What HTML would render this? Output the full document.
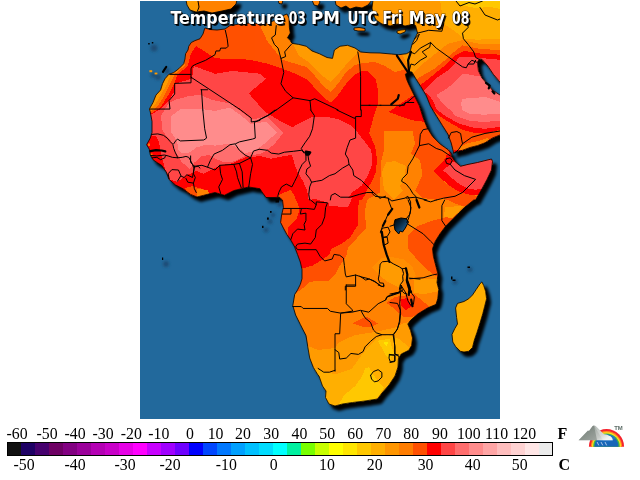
<!DOCTYPE html>
<html><head><meta charset="utf-8"><title>Temperature 03 PM UTC Fri May 08</title>
<style>html,body{margin:0;padding:0;background:#fff;width:640px;height:480px;overflow:hidden}</style>
</head><body>
<svg width="640" height="480" viewBox="0 0 640 480" style="position:absolute;left:0;top:0;will-change:transform;opacity:0.999">
<defs>
<clipPath id="mapclip"><rect x="140" y="1" width="360" height="418"/></clipPath>
<clipPath id="land"><polygon points="205,28 210,29.5 217,30 225,29 230,25.5 240,24 250,23 262,24 270,22 276,20 282,16 287,14 289,18 289.4,27.5 290.3,33 287.5,37.8 290.3,40.6 292,43.4 298.75,44.4 306.25,46.25 312,51 319.4,53.75 327,57.5 332.5,58.4 334.4,50 340,46.25 347.5,45.3 355,48 360.6,52 370,52.8 380,53 391.25,54 398.75,54.7 406.25,53.75 410,52 412,44.4 414.7,38.75 417.5,33 415.6,25.6 412,24.5 405,26 398,24 390,26 382,24 376,20 373,14 372,8 373,0 505,0 505,82 500,82 493.4,74.4 487.8,66 482,59.4 479.4,59 477.5,62 478.4,70.6 482,78 487.8,84.7 492.5,90.3 500,95 505,95 505,135 500,135 492.5,138 485,142.8 477.5,145.6 470,147.5 462.5,150.3 455,152 453.6,153.5 453.4,151.8 451.2,143 448,134.3 442.5,125.6 437,116.8 430.4,106 426,95 420.6,86.2 416,79 411.9,72 408.5,71.5 405.3,74.2 406.5,79 408.6,84 414,95 419.5,106 422.8,116.8 427.2,127.8 432.6,136.5 440.3,144.2 448,149.6 451,153 451.25,156 455,161.5 460.6,166.25 468,164.4 477.5,162.5 485,160.6 491.5,159 492.5,161.5 491.5,170 487,179.4 482,188.75 475.6,200 473.75,200 464.4,207.5 458.75,213 453,218.75 445.6,226.25 440,233.75 435.3,241.25 432.5,248.75 433.4,256.25 435.3,263.75 438,274 437,282.5 438.75,289.4 437.8,298.75 436,304.4 427.5,308 418,313.75 410.6,320.3 407.8,324 410.6,330.6 412.5,338 411.6,345.6 408.75,350.3 401.25,354 398.4,358.75 398,367 395,376 389,385 382,393 377.5,399 365,401 352.5,402.5 342.5,404 335,406 329,404 325.5,397.5 326,391 322.5,386 319,376 318,375 313.4,367.5 309.7,358 307.8,347 306,335.6 300.3,324.4 295.6,315 292.8,305.6 294.7,294.4 297.5,290 300.3,284.4 302,278.75 302,269.4 300.3,262 297.5,254.4 294.7,247 291,240.3 287,234.7 283.4,228 280.6,222.5 281.6,215 283.4,207.5 282.5,200 279,197 275,197.5 266,197.5 262,192 260,188.75 248.75,187 241.25,188.75 233.75,190.6 224.4,195.3 215,192.5 203.75,195.3 197,197 190.6,194.4 183,188.75 175.6,185 169,179.4 166.25,172 161.6,165.3 157,162.5 153,159.7 150.3,155 149.4,149.4 146.6,144.7 150.3,138 152,132.5 152,121.25 150.3,112 149.4,109 153,102.5 156,95 160.6,90 162.5,83.75 165,78.75 168.75,74.4 173.75,72.5 178.75,68.75 183.75,63.75 185,58.75 185.6,53.75 188,50 188.75,46.25 191.25,42.5 195,40.6 200,38.75 203,34 204.7,28.4"/><polygon points="278,0 279,3.5 282,4 283,0"/><polygon points="186,0 187,5 190,10 196,12 204,11 212,13 222,11 231,9 236,4 237,0"/><polygon points="335,0 336,5 341,8 346,6 350,9 356,7 362,8 368,5 372,0"/><polygon points="312,0 314,5 318,6 320,2 319,0"/><polygon points="354,28 359,27.5 365,28.5 365,31 358,31 354,30"/><polygon points="397,31 401,30 406,29.5 405,32 400,34 397,33"/><polygon points="481.9,281.9 483.75,285.6 485.6,291.25 486.6,298.75 484.7,306.25 482.8,313.75 480,323 477,332.5 474.4,340 472.5,347.5 468.75,351.25 464,352 460.3,351.25 455.6,346.5 452.8,342 452,334.4 454.7,328.75 457.5,324 456.6,317.5 455.6,308 457.5,303.4 464,301.5 468.75,298.75 472.5,295 476.25,289.4 480,283.75"/></clipPath>
<filter id="blur" x="-5%" y="-5%" width="110%" height="110%"><feGaussianBlur stdDeviation="1.5"/></filter>
<filter id="blur2" x="-50%" y="-50%" width="200%" height="200%"><feGaussianBlur stdDeviation="1.6"/></filter>
<linearGradient id="mtn" x1="0" y1="0" x2="1" y2="0.6"><stop offset="0" stop-color="#76807a"/><stop offset="0.45" stop-color="#a9b0ab"/><stop offset="0.8" stop-color="#c9cdca"/><stop offset="1" stop-color="#eef0ef"/></linearGradient>
<linearGradient id="lakeg" x1="0" y1="0" x2="1" y2="1"><stop offset="0" stop-color="#000"/><stop offset="0.35" stop-color="#06233a"/><stop offset="0.8" stop-color="#1d5f92"/><stop offset="1" stop-color="#22699c"/></linearGradient>
</defs>
<rect x="0" y="0" width="640" height="480" fill="#fff"/>
<g clip-path="url(#mapclip)">
<rect x="140" y="1" width="360" height="418" fill="#22699c"/>
<g filter="url(#blur)" transform="translate(4,4.5)" fill="#000" stroke="#000" stroke-width="1">
<polygon points="205,28 210,29.5 217,30 225,29 230,25.5 240,24 250,23 262,24 270,22 276,20 282,16 287,14 289,18 289.4,27.5 290.3,33 287.5,37.8 290.3,40.6 292,43.4 298.75,44.4 306.25,46.25 312,51 319.4,53.75 327,57.5 332.5,58.4 334.4,50 340,46.25 347.5,45.3 355,48 360.6,52 370,52.8 380,53 391.25,54 398.75,54.7 406.25,53.75 410,52 412,44.4 414.7,38.75 417.5,33 415.6,25.6 412,24.5 405,26 398,24 390,26 382,24 376,20 373,14 372,8 373,0 505,0 505,82 500,82 493.4,74.4 487.8,66 482,59.4 479.4,59 477.5,62 478.4,70.6 482,78 487.8,84.7 492.5,90.3 500,95 505,95 505,135 500,135 492.5,138 485,142.8 477.5,145.6 470,147.5 462.5,150.3 455,152 453.6,153.5 453.4,151.8 451.2,143 448,134.3 442.5,125.6 437,116.8 430.4,106 426,95 420.6,86.2 416,79 411.9,72 408.5,71.5 405.3,74.2 406.5,79 408.6,84 414,95 419.5,106 422.8,116.8 427.2,127.8 432.6,136.5 440.3,144.2 448,149.6 451,153 451.25,156 455,161.5 460.6,166.25 468,164.4 477.5,162.5 485,160.6 491.5,159 492.5,161.5 491.5,170 487,179.4 482,188.75 475.6,200 473.75,200 464.4,207.5 458.75,213 453,218.75 445.6,226.25 440,233.75 435.3,241.25 432.5,248.75 433.4,256.25 435.3,263.75 438,274 437,282.5 438.75,289.4 437.8,298.75 436,304.4 427.5,308 418,313.75 410.6,320.3 407.8,324 410.6,330.6 412.5,338 411.6,345.6 408.75,350.3 401.25,354 398.4,358.75 398,367 395,376 389,385 382,393 377.5,399 365,401 352.5,402.5 342.5,404 335,406 329,404 325.5,397.5 326,391 322.5,386 319,376 318,375 313.4,367.5 309.7,358 307.8,347 306,335.6 300.3,324.4 295.6,315 292.8,305.6 294.7,294.4 297.5,290 300.3,284.4 302,278.75 302,269.4 300.3,262 297.5,254.4 294.7,247 291,240.3 287,234.7 283.4,228 280.6,222.5 281.6,215 283.4,207.5 282.5,200 279,197 275,197.5 266,197.5 262,192 260,188.75 248.75,187 241.25,188.75 233.75,190.6 224.4,195.3 215,192.5 203.75,195.3 197,197 190.6,194.4 183,188.75 175.6,185 169,179.4 166.25,172 161.6,165.3 157,162.5 153,159.7 150.3,155 149.4,149.4 146.6,144.7 150.3,138 152,132.5 152,121.25 150.3,112 149.4,109 153,102.5 156,95 160.6,90 162.5,83.75 165,78.75 168.75,74.4 173.75,72.5 178.75,68.75 183.75,63.75 185,58.75 185.6,53.75 188,50 188.75,46.25 191.25,42.5 195,40.6 200,38.75 203,34 204.7,28.4"/>
<polygon points="278,0 279,3.5 282,4 283,0"/>
<polygon points="186,0 187,5 190,10 196,12 204,11 212,13 222,11 231,9 236,4 237,0"/>
<polygon points="335,0 336,5 341,8 346,6 350,9 356,7 362,8 368,5 372,0"/>
<polygon points="312,0 314,5 318,6 320,2 319,0"/>
<polygon points="354,28 359,27.5 365,28.5 365,31 358,31 354,30"/>
<polygon points="397,31 401,30 406,29.5 405,32 400,34 397,33"/>
<polygon points="481.9,281.9 483.75,285.6 485.6,291.25 486.6,298.75 484.7,306.25 482.8,313.75 480,323 477,332.5 474.4,340 472.5,347.5 468.75,351.25 464,352 460.3,351.25 455.6,346.5 452.8,342 452,334.4 454.7,328.75 457.5,324 456.6,317.5 455.6,308 457.5,303.4 464,301.5 468.75,298.75 472.5,295 476.25,289.4 480,283.75"/>
</g>
<g filter="url(#blur2)" fill="#1a4c74">
<circle cx="455" cy="282" r="2.5"/>
<circle cx="470" cy="269.5" r="2.5"/>
<circle cx="280" cy="204" r="3"/>
<circle cx="270" cy="221.5" r="2.5"/>
<circle cx="266" cy="230" r="2.5"/>
<circle cx="154" cy="48" r="3.5"/>
<circle cx="153" cy="75" r="2.5"/>
<circle cx="158" cy="77" r="3"/>
<circle cx="167" cy="71" r="3"/>
<circle cx="166" cy="264" r="3"/>
<circle cx="273" cy="215" r="2.2"/>
</g>
<g clip-path="url(#land)" shape-rendering="crispEdges">
<rect x="140" y="1" width="360" height="418" fill="#ff8200"/>
<polygon fill="#ff5000" points="140,20 200,20 261,22 261,27.5 267,40.6 274.4,50 282,59.4 293,63 306.25,67 313.75,74.4 323,85.6 330.6,92 338,83.75 345.6,72.5 355,65 362.5,63 375,62 385,66 395,72 403,70 407,68 412,80 426,106 372,106 372,145 140,145"/>
<polygon fill="#ff9b00" points="288,38 293,44.4 298.75,55.6 306.25,60.3 313.75,67 323,76.25 330.6,82 338,74.4 347.5,63 357,53.75 358.75,50 362,44 345,40"/>
<polygon fill="#ff9b00" points="395,45 403,56 407,64 412,75 420,66 432.5,56 447.5,44 462.5,40 480,44 506,45 506,0 370,0 370,30"/>
<polygon fill="#ffaf00" points="440,0 443.75,23.75 455,31.25 463.4,38.75 477.5,39.7 492.5,38.75 506,39.7 506,0"/>
<polygon fill="#ffc800" points="455,0 460,5 475,8 490,7 506,10 506,0"/>
<polygon fill="#ff5000" points="372,105 425,105 455,160 447.5,159 433.75,171 445,182.5 457.5,191 470,194 476,196 480,200 470.6,202.5 467,206.25 459.4,205.3 442.5,197.8 435,199.7 422,197.8 414.4,190.3 415,191 422.5,175 420,160 411,153.75 415,143.75 412.5,131 384,131 384,150 381,162.5 380,192.5 375,195 367,200 365,211.25 366,228 357.5,237.5 348,247 346.25,256.25 338.75,267.5 335,275 329.4,280.6 316.25,280.6 308.75,282.5 303,288 296,293 285,260 340,200 360,110"/>
<polygon fill="#ff5000" points="408,235.6 417.5,226.25 432.5,220.6 443.75,217.8 458,214 445,235 440,262 440,278 434.4,275 427,269.4 417.5,260 408,248.75"/>
<polygon fill="#ff9b00" points="386,162.5 395,161 406,166 404,180 400,186 403,191 394,199 384,190 382,172"/>
<polygon fill="#ff8e00" points="372,267.3 381.6,258.4 388,256.5 404,259.4 412.5,267 416,276 410.6,278 401.25,284.7 388,282 378.75,274.4"/>
<polygon fill="#ff9b00" points="380,264 388,262 399.4,267 402.2,274.4 401.25,282 399.4,287.5 388,282 380,276"/>
<polygon fill="#ff5000" points="386.6,302.8 395,297 414.4,294 422,300.6 430,307 418,314 410.6,317.5 403,316.5 395,309.4"/>
<polygon fill="#ff0000" points="400.3,299.7 407.8,297.8 411.6,306.25 406,310 401.25,305.3"/>
<polygon fill="#ff5000" points="352.8,323.4 361.25,318.75 367,317 378,323.4 370.6,327 363,327"/>
<polygon fill="#ff9b00" points="300,344 307.8,346 318,350 335,348 338.75,342.5 346,338.75 355.6,335 368.75,333 380,331 395,327.5 402.5,323.75 415,320 415,410 300,410"/>
<polygon fill="#ffaf00" points="312,368 319,369.7 335,374.4 351.9,368.75 361.25,355.6 368.75,346.25 378,337.8 387.5,335 398.75,338.75 410,348 410,410 318,410"/>
<polygon fill="#ffc800" points="365,368.75 368.75,366.9 378,381.9 383.75,387.5 378,397 368.75,402.6 351.9,404.5 336.9,407.3 344.4,395 355.6,385.6 362.2,376.25"/>
<polygon fill="#ffc800" points="378,340.6 389.4,338.75 394,353.75 389.4,360.3 383.75,351.9"/>
<polygon fill="#ffe600" points="383.2,342 388.4,342 386.6,346.25"/>
<polygon fill="#ffaf00" points="445,275 495,275 495,360 445,360"/>
<polygon fill="#ff0000" points="196,46 204,51 215,58 225,59 242,59 250,60 265,63 278,67 297,74.4 308,80 317.5,91.25 325,98.75 330.6,102.5 338,95 347.5,82 355,74.4 362.5,70.6 368,71 375.6,78.75 378.4,92 377.5,105 373.75,116 372.5,121.25 369,133.4 375,145.6 377,158.75 376,172 372,181 368,188 365,195 362,200 359.4,200 357.5,211.25 358.4,224.4 350,237.5 342.5,243 331.25,248.75 329.4,254.4 322,260 312.5,265.6 303,268.4 290,268 270,215 140,215 140,113 153,112.5 160.6,107 168,95.6 173.75,84.4 177.5,75 187.8,65.6 190.6,54.4"/>
<polygon fill="#ff0000" points="388.5,112 400,104 412,96 418,96 424,108 426,122 412,120.3 398.75,115.6"/>
<polygon fill="#ff4646" points="193.75,66 215,73.75 232.5,71 260,73.75 266,78.75 248.6,93.3 265,111.9 281.4,121.7 292.3,127.2 303,121.25 313.4,116.6 325.6,116.6 338.75,119.4 350,125 357.5,132.5 365,142 370.6,149.4 372.5,157 371.6,166.25 367.8,175.6 362.2,185 357.5,188.75 352,192.5 348,198 347,203 340,205 327.5,202.5 315,199 308.75,200 307,190.6 303,181.25 297.5,172 294.7,164.4 292,155 284.4,156 271.25,158.75 260,156 252.5,157 245,157.5 237.5,160.6 232,163.4 220.6,165.3 211.25,170 203.75,173.75 196.25,171 186,175.6 177.5,182 170,179.4 166.25,172 164.8,168 163.4,162.5 162,157.8 161,153 160,147.5 158.3,140 156,136.25 150,135 150,113.5 153,113.5 162,108 169.7,99.4 174.4,91 175,83.5 192,78.75"/>
<polygon fill="#ff6e6e" points="161,116 168,104 174.4,100 187.5,96.5 199.7,94.7 212,100 230,103.5 243,113 252,119.5 267,116.25 283.6,132.7 273.75,144.7 262.8,153 254,155 245,156 237.5,159.7 232,162 224.4,162.5 215,158.5 209.4,155 202,156 194.4,162.5 190,169 187,166.25 182,162.5 179.4,157.3 176.5,154 174.2,149.4 172.8,143.75 170,139 165.3,134.4 162,129.7 161.5,121"/>
<polygon fill="#ff8c8c" points="171,116 181,109 201,109 215,111 230,107.5 242,116.25 250.8,124 266,121.7 277,132.7 262.8,145 254,151.5 245,153 237.5,147.5 228,143.75 215,145.6 205.6,144.7 196.25,147.5 188.75,153 181.25,153 178.4,149.4 177.5,143.75 175.6,139 171.4,132.5 171,120"/>
<polygon fill="#ff5000" points="196,46 190.6,54.4 187.8,65.6 177.5,75 173.75,84.4 168,95.6 160.6,107 153,112.5 140,113 140,40 200,30"/>
<polygon fill="#ff8200" points="186,50.6 185,65.6 174.7,74 170,84.4 164.4,95.6 157,107 151,111.5 140,112 140,50"/>
<polygon fill="#ff9b00" points="171,74 167,84.4 160.6,95.6 155,105 150.3,109.7 140,110 140,70"/>
<polygon fill="#ff8200" points="408,70 412.8,74.4 417.5,68.75 432.5,63 443.75,55.6 455,46.25 464.4,40.6 480,44 500,44.4 506,44.4 506,166 460,166 454,159 451,156 446,145 441,135 436,125 430,115 426,106 422,97 417,88 412,80 408,74"/>
<polygon fill="#ff5000" points="415.6,80 421.25,76.25 434.4,68.75 443.75,61.25 453,52.8 462.5,45.3 480,49 500,50 506,50 506,166 460,166 454,159 451,156 446,145 441,135 436,125 430,115 426,106 422,97 417,88"/>
<polygon fill="#ff0000" points="419.4,85.6 427,80 436.25,72.5 445.6,65 455,55.6 464.4,51 480,53.5 500,54.7 506,54.7 506,166 460,166 454,159 451,156 446,145 441,135 436,125 430,115 426,106 422,97 417,88"/>
<polygon fill="#ff4646" points="423,92 427,87.5 436.25,78 447.5,70.6 455,63 458.75,57.5 468,56.6 480,58 506,60.3 506,126 485,128.75 475,128 460,124 447,117 437,110 434,103 430,96 426,93"/>
<polygon fill="#ff6e6e" points="436.25,95 445.6,89.4 455,82 462.5,74.4 468,74.4 477.5,76.25 485,74.4 492.5,74.4 506,86 506,120 485,122 470,121 455,116 451,110 446,107 440,100"/>
<polygon fill="#ff8c8c" points="462.5,98.75 485,97 506,104 506,113 485,114.7 470,114 462.5,110 461,104"/>
<polygon fill="#ff5000" points="431,108 433,110 441,117 452,124 463,130 475,133 485,133.4 495,131 506,128 506,166 456,166 451,150 440,125"/>
<polygon fill="#ff8200" points="460,147 468,143 478,141 488,138 490,142 480,148 468,152 458,154"/>
<polygon fill="#ff0000" points="433.4,171 442,162.5 445.6,158 446.6,155 455,150 500,150 500,185 477.5,195.3 468,194.4 460.6,192.5 451.25,187 442,179.4"/>
<polygon fill="#ff4646" points="442.8,170 449.5,165.3 452,162 460,163 500,155 500,180 481.25,188.75 475.6,189.7 468,188.75 460.6,185 451.25,177.5"/>
<polygon fill="#ff5000" points="185,188 192.5,186 198,188 204,189 205,198 190,198"/>
<polygon fill="#ff8200" points="197.5,189 208,190 209,193 204,198 197,198"/>
<polygon fill="#ff5000" points="277,200 278.4,195.3 284,192.5 291,189.8 294,195.3 298.75,206.25 298.75,212.5 296.6,218.75 288,228 288,236 277,236"/>
<polygon fill="#ff4646" points="327.5,198 329.4,205.6 348,207.5 352,198"/>
<polygon fill="#ff9b00" points="445,207 463,206 458,213 452,218 444,217"/>
<polygon fill="#ff5000" points="297,284 305,285 299,292"/>
<polygon fill="#ff9b00" points="414,279 440,279 440,291 424,294 414,293"/>
<polygon fill="#ff9b00" points="184,0 198,0 199,14 186,14"/>
</g>
<polygon fill="url(#lakeg)" stroke="#000" stroke-width="1" points="395,219.7 401,218 406.25,218.75 408.5,222 405.3,228 402.5,232 400,231 398.75,234 395,230 394,224.4"/>
<rect x="452.5" y="279.5" width="3" height="1.5" fill="#000"/>
<rect x="467.5" y="266.5" width="2.5" height="1.5" fill="#000"/>
<rect x="451" y="276.5" width="1.5" height="3" fill="#000"/>
<rect x="275.5" y="199" width="3.5" height="3.5" fill="#000"/>
<rect x="267" y="217.5" width="1.8" height="2.2" fill="#000"/>
<rect x="262" y="225.8" width="1.5" height="2.2" fill="#000"/>
<rect x="148.2" y="43" width="1.5" height="1.5" fill="#000"/>
<rect x="151.8" y="42" width="1.5" height="1.5" fill="#000"/>
<rect x="149.4" y="70.2" width="2.8" height="2" fill="#ff9b00"/>
<rect x="154.6" y="72.6" width="2.8" height="1.8" fill="#ff9b00"/>
<rect x="162" y="257.5" width="1.2" height="2.5" fill="#000"/>
<rect x="148" y="143.5" width="2" height="2.5" fill="#ff7800"/>
<rect x="150" y="153.5" width="2.5" height="2.5" fill="#ff7800"/>
<rect x="270" y="211" width="1.6" height="1.8" fill="#000"/>
<g fill="none" stroke="#000" stroke-width="1" stroke-linejoin="round" stroke-linecap="round">
<polyline points="225.31,30.31 227.19,38.75 228.12,46.25 226.25,48.12 220.62,48.12 219.69,50.94 215.94,50.94 215,54.69 210.31,57.5 205.62,60.31 196.25,64.06 192.5,65.94 191,68.75 191,74.38"/>
<polyline points="170,74.38 191,74.38 191,82.81 174.69,83.38 174.69,94.06 169.06,100.62 170,109.06 150.31,109.06"/>
<polyline points="191,77.19 239.38,109.06"/>
<polyline points="200.94,89.75 207.5,89.75"/>
<polyline points="201.5,89.75 202.81,110"/>
<polyline points="276.25,25.62 275.31,35 271.56,37.81 274.38,44.38 278.12,48.12 280.94,58.44"/>
<polyline points="291.25,44.38 284.69,51.88 285.62,56.56 280.94,58.44 283.75,72.5 280.94,83.75 285.62,91.25 293.12,97.81 276.25,110"/>
<polyline points="293.12,97.81 310,100.62 310.94,110"/>
<polyline points="310,100.62 314.69,98.75 334.38,108.12 338.12,110"/>
<polyline points="357.81,51.88 359.69,63.12 360.62,76.25 360.62,110"/>
<polyline points="360.62,105.31 370,105.31"/>
<polyline points="410.94,51.88 408.12,60.31"/>
<polyline points="414.69,38.75 419.38,34.06 416.56,40.62 412.81,44.38"/>
<polyline points="410,51.88 414.69,53.75 420.31,48.12 430.62,42.5 429.69,47.19 422.19,51.88 426.88,56.56 420.31,60.31 414.69,65 410.94,64.06 409.06,71.56"/>
<polyline points="417.5,33.12 428.75,30.31 441.88,31.25 443.75,23.75"/>
<polyline points="430.62,42.5 436.25,48.12 453.12,60.31 462.5,66.88 466.25,67.81 468.12,64.06 473.75,64.06 475.62,60.31"/>
<polyline points="468.12,64.06 471.88,60.31 476.56,62.19"/>
<polyline points="467.19,20 468.12,27.5 462.5,33.12 463.44,38.75 468.12,44.38 473.75,51.88 475.62,57.5 479.38,59.38"/>
<polyline points="380,105.31 404.38,105.31 405.31,102.5 413.75,102.5"/>
<polyline points="399.69,106.25 408.12,101.56 414.69,95.94"/>
<polyline points="202.81,110 204.69,128.75 206.56,138.12 203.75,140 180.31,140.94 177.5,139.06 175.62,140.94 173.75,143.75"/>
<polyline points="169.06,178.44 168.12,173.75 171.88,169.62 178.44,170 180.88,175.62 177.5,181.25"/>
<polyline points="180.88,176 184.06,177.5 186.88,174.69 192.5,177.5 194.38,166.25"/>
<polyline points="185.94,178.44 187.81,182.19 193.44,183.12 194.38,188.75 196.25,192.5"/>
<polyline points="194.38,166.25 201.88,165.31 207.5,167.19 210.31,160.62 214.06,154.06 222.5,150.31 230,144.69 235.62,143.75 239.38,141.88 252.5,139.06 255.31,138.12 254.38,122.19 260,120.31"/>
<polyline points="235.62,144.69 239.38,150.31 245,155 250.62,157.81 252.5,164.38 250.62,173.75 248.75,186.88"/>
<polyline points="194.38,166.25 193.44,173.75 195.31,177.5 193.44,183.12"/>
<polyline points="219.69,165.31 220.62,173.75 222.5,179.38 218.75,186.88 220.62,193.44"/>
<polyline points="207.5,167.19 215,170 219.69,165.31 233.75,164.38 239.38,163.44 245,160.62 250.62,157.81"/>
<polyline points="233.75,164.38 236.56,171.88 237.5,177.5 241.25,187.81"/>
<polyline points="239.38,163.44 242.19,171.88 243.12,187.81"/>
<polyline points="310.62,110 314.38,115.62 312.5,128.75 309.69,136.25 305,142.81 301.25,148.44 304.06,153.12"/>
<polyline points="260,149.38 267.5,150.31 271.25,153.12 278.75,154.06 284.38,152.19 293.75,151.25 301.25,150.31 305.94,153.12"/>
<polyline points="260,119.38 267.5,115.62 275,110"/>
<polyline points="336.88,110 354.69,118.44 355.62,116.56 361.25,116.56 361.25,110"/>
<polyline points="355.62,117.5 355.62,138.12 350,140 347.19,147.5 345.31,154.06 348.12,158.75 349.06,164.38 342.5,168.12 335,173.75 329.38,175.62 321.88,180.31 316.25,181.25 311.56,182.19"/>
<polyline points="307.81,154.06 308.75,160.62 310.62,166.25 306.88,169.06 305.94,173.75 309.69,178.44 311.56,182.19 309.69,186.88 308.75,194.38 309.69,200"/>
<polyline points="305.94,154.06 305.94,160.62 302.19,164.38 299.38,170 297.5,175.62 294.69,181.25 291.88,186.88 286.25,184.06 281.56,186.88 278.75,192.5 277.81,196.25"/>
<polyline points="349.06,164.38 352.81,170 353.75,175.62 361.25,180.31 365,184.06 370.62,189.69 373.44,192.5 380,198.12"/>
<polyline points="330.31,200 331.25,195.31 335,193.44 340.62,197.19 350,197.19 359.38,194.38 366.88,192.5 373.44,192.5"/>
<polyline points="427.81,128.75 423.12,129.69 420.31,134.38 419.38,145.62 416.56,151.25 412.81,158.75 408.12,166.25 407.19,173.75 402.5,178.44 401.56,181.25 406.25,184.06 410,188.75 412.81,193.44 415.62,196.25 416.56,200"/>
<polyline points="419.38,145.62 428.75,143.75 436.25,148.44 441.88,150.31 447.5,154.06 450.31,155.94"/>
<polyline points="446.56,158.75 450.31,157.81 452.19,160.62 450.31,164.38 446.56,163.44 445.62,160.62 446.56,158.75"/>
<polyline points="450.31,164.38 455,170 464.38,175.62 475.62,179.38 462.5,192.5 455,196.25 443.75,198.12 436.25,200"/>
<polyline points="448.44,138.12 451.25,132.5 456.88,131.56 460.62,133.44 461.56,139.06 462.5,143.75 458.75,149.38 455,153.12"/>
<polyline points="462.5,143.75 471.88,137.19 485,133.44 500,131"/>
<polyline points="406.25,198.12 415.62,197.19 426.88,200"/>
<polyline points="380,198.12 385.62,196.25"/>
<polyline points="283.44,208.44 290.94,208.44 290.94,214.06 282.5,214.06"/>
<polyline points="290.94,208.44 306.88,208.44 314.38,209.38 316.25,204.69 310.62,200"/>
<polyline points="301.25,209.38 300.31,214.06 305.94,213.12 305.94,220.62 304.06,224.38 305,230 297.5,229.06 292.81,233.75 290.94,239.38"/>
<polyline points="316.25,204.69 316.25,201.88 327.5,202.81 325.62,207.5 324.69,216.88 321.88,224.38 316.25,230 315.31,237.5 310.62,244.06 305,243.12 297.5,244.06 295.62,246.88 297.5,249.69 316.25,249.69 320,256.25 324.69,260.94 332.19,259.06 334.06,254.38 339.69,255.31 343.44,258.12 344.38,265.62 345.31,274.06 346.25,276.88 355.62,275 361.25,276.88 368.75,278.75 376.25,282.5 380,285.31"/>
<polyline points="355.62,275 355.62,286.25 345.31,286.25 345.31,290"/>
<polyline points="408.12,200 410.94,207.5 410,214.06 406.25,218.75"/>
<polyline points="408.12,224.38 423.12,233.75 430.62,241.25 434.38,245"/>
<polyline points="444.69,200 441.88,205.62 441.88,220.62 445.62,226.25"/>
<polyline points="424.06,200 430.62,201.88 436.25,200"/>
<polyline points="410,278.75 423.12,277.81 432.5,275 437.19,274.06"/>
<polyline points="292.81,306.56 301.25,306.56 303.12,308.44 327.5,308.44 330.31,311.25 340.62,313.12 351.88,311.25"/>
<polyline points="340.62,313.12 351.88,312.19 360.31,310.31 368.75,312.19 378.12,303.75 385.62,300 386.56,297.19 395,294.38 400.62,292.5 399.69,303.75 400.62,313.12 399.69,322.5 396.88,330 393.12,334.69 381.88,334.69"/>
<polyline points="346.25,285 346.25,303.75 351.88,309.38 352.81,311.25"/>
<polyline points="340.62,314.06 339.69,333.75 335,333.75 335,348.75 335,371.25"/>
<polyline points="361.25,311.25 365,317.81 370.62,322.5 373.44,330 376.25,332.81 381.88,334.69 376.25,336.56 370.62,341.25 365,346.88 363.12,351.56 358.44,354.38 350.94,353.44 346.25,358.12 339.69,359.06 338.75,352.5 335,349.69"/>
<polyline points="393.12,334.69 395,346.88 395,354.38 398.75,356.25 399.69,360"/>
<polyline points="389.38,354.38 395,355.31 395,360.94 390.31,361.88 389,358.12 389.38,354.38"/>
<polyline points="318.12,368.44 323.75,372.19 329.38,372.19 335,370.31"/>
<polyline points="385.62,300 387.5,296.25 398.75,292.5 402.5,290.62 400.62,285"/>
<polyline points="346.25,285 355.62,285"/>
<polyline points="378.12,285 383.75,286.88 383.75,285"/>
<polyline points="401.25,285.62 405.94,293.12 407.81,300.62 410.62,305.31 413.44,304.38 414.38,296.88 411.56,293.12 409.69,287.5"/>
<polyline points="390,302.5 397.5,303.44 400.31,310 399.38,321.25 397.5,328.75 393.75,334.38 394.69,345.62 394.69,354.06 398.44,355"/>
<polyline points="390,355 394.69,355 394.69,361.56 390,362.5"/>
<polyline points="390,294.06 399.38,292.19 401.25,285.62"/>
<polyline points="370.62,375.31 373.44,371.56 378.12,369.69 381.88,372.5 381.88,377.19 378.12,380.94 374.38,381.88 371.56,379.06 370.62,375.31"/>
<polyline points="372.19,193.44 375,196.25 382.5,197.19 388.12,198.12 391.88,200.94 405,198.12 407.81,196.25 410.62,201.88 410.62,210.31 408.75,217.81 406.88,222.5"/>
<polyline points="388.12,198.12 389.06,201.88 391.88,209.38 388.12,214.06 385.31,220.62 382.5,226.25 380.62,231.88"/>
<polyline points="380.62,231.88 382.5,228.12 388.12,227.19 390,231.88 387.19,236.56 382.5,237.5 380.62,231.88"/>
<polyline points="382.5,237.5 387.19,237.12 388.12,243.12 384.38,245 382.5,241.25"/>
<polyline points="390,226.25 394.69,224.75"/>
<polyline points="239.4,109 251.25,118 251.25,122 257,121 270,114.4 276.25,110"/>
<polyline points="151.72,134.38 157.81,133.91 163.44,135.31 167.19,138.12 170,141.41 172.81,144.22 173.75,148.44 175.16,152.19 177.03,155.94 177.5,157.81"/>
<polyline points="150.78,155.47 156.88,155.94 164.38,155 168.12,155.94 172.34,157.34 177.5,157.81 182.19,157.34 185.94,156.41 188.75,157.34 191.09,161.56 192.5,164.38 193.44,167.19 198.12,166.25 200,168.12"/>
<polyline points="152.19,157.81 156.88,157.34 160.62,159.69 164.84,157.81 165.31,155.94"/>
<polyline points="190.62,155.94 190.62,162.5 194.38,166.25"/>
<polyline points="250.6,157.8 253.5,151 259.5,149.2"/>
<polyline points="389.06,261.25 393.75,264.06 399.38,266.88 402.19,268.75 405.94,268.28"/>
<polyline points="409.22,278.12 420,279.06"/>
<polyline points="388.12,261.25 382.5,261.72 380.16,264.06 379.69,268.75 379.22,274.38 378.28,279.06 379.69,282.81 383.44,283.28 383.91,286.09 381.56,286.56 377.81,283.75 374.06,280.94 369.38,279.06 365.62,280 362.81,278.12 360,276.25"/>
<polyline points="402.19,268.75 403.59,273.44 402.66,276.25 403.12,280.94 400.31,284.69 399.38,289.38 402.19,291.25 404.06,293.12 406.88,294.06"/>
<polyline points="391.88,294.06 397.5,292.66 400.31,291.25"/>
<polyline points="198,1 199,7 197.5,11"/>
<polyline points="456,1 460,6 469,2.5 475,4 482.5,1"/>
<polyline points="480,7.5 485,15 497.5,20 500,19"/>
<polyline points="369,105.3 381,105.3"/>
</g>
<g fill="none" stroke="#000" stroke-width="2.2" stroke-linejoin="round" stroke-linecap="round">
<polyline points="408.12,72.5 396.88,55.62"/>
<polyline points="409.06,72.5 408.12,60.31 410.94,51.88"/>
<polyline points="391.25,104.38 397.81,98.75 398.75,95"/>
<polyline points="485.94,82.81 489.69,85.62 488.75,88.44"/>
<polyline points="492.5,91.25 494.38,93.5"/>
<polyline points="305.94,151.62 310.25,152.38 308.75,154.62 306.31,154.62 305.94,151.62 308.38,153.5"/>
<polyline points="381.88,231.88 382.62,237.5 383.75,245 386.56,254.38 389.38,261.88"/>
<polyline points="416.56,200 419.38,207.5"/>
<polyline points="406.88,280 409.69,287.5 408.75,295"/>
<polyline points="411.19,299.69 412.5,306.25"/>
<polyline points="388.12,214.62 392.25,208.81"/>
<polyline points="385.31,221 382.88,225.88"/>
<polyline points="150.31,151.06 155.94,150.12 161.56,150.5 165.31,151.44"/>
<polyline points="405.94,268.28 407.34,274.38 406.88,280.94 408.75,287.5 411.09,292.19"/>
<polyline points="163,71.8 164.5,69.5 166.2,67"/>
</g>
<g fill="none" stroke="#000" stroke-opacity="0.9" stroke-width="0.9">
<polygon points="205,28 210,29.5 217,30 225,29 230,25.5 240,24 250,23 262,24 270,22 276,20 282,16 287,14 289,18 289.4,27.5 290.3,33 287.5,37.8 290.3,40.6 292,43.4 298.75,44.4 306.25,46.25 312,51 319.4,53.75 327,57.5 332.5,58.4 334.4,50 340,46.25 347.5,45.3 355,48 360.6,52 370,52.8 380,53 391.25,54 398.75,54.7 406.25,53.75 410,52 412,44.4 414.7,38.75 417.5,33 415.6,25.6 412,24.5 405,26 398,24 390,26 382,24 376,20 373,14 372,8 373,0 505,0 505,82 500,82 493.4,74.4 487.8,66 482,59.4 479.4,59 477.5,62 478.4,70.6 482,78 487.8,84.7 492.5,90.3 500,95 505,95 505,135 500,135 492.5,138 485,142.8 477.5,145.6 470,147.5 462.5,150.3 455,152 453.6,153.5 453.4,151.8 451.2,143 448,134.3 442.5,125.6 437,116.8 430.4,106 426,95 420.6,86.2 416,79 411.9,72 408.5,71.5 405.3,74.2 406.5,79 408.6,84 414,95 419.5,106 422.8,116.8 427.2,127.8 432.6,136.5 440.3,144.2 448,149.6 451,153 451.25,156 455,161.5 460.6,166.25 468,164.4 477.5,162.5 485,160.6 491.5,159 492.5,161.5 491.5,170 487,179.4 482,188.75 475.6,200 473.75,200 464.4,207.5 458.75,213 453,218.75 445.6,226.25 440,233.75 435.3,241.25 432.5,248.75 433.4,256.25 435.3,263.75 438,274 437,282.5 438.75,289.4 437.8,298.75 436,304.4 427.5,308 418,313.75 410.6,320.3 407.8,324 410.6,330.6 412.5,338 411.6,345.6 408.75,350.3 401.25,354 398.4,358.75 398,367 395,376 389,385 382,393 377.5,399 365,401 352.5,402.5 342.5,404 335,406 329,404 325.5,397.5 326,391 322.5,386 319,376 318,375 313.4,367.5 309.7,358 307.8,347 306,335.6 300.3,324.4 295.6,315 292.8,305.6 294.7,294.4 297.5,290 300.3,284.4 302,278.75 302,269.4 300.3,262 297.5,254.4 294.7,247 291,240.3 287,234.7 283.4,228 280.6,222.5 281.6,215 283.4,207.5 282.5,200 279,197 275,197.5 266,197.5 262,192 260,188.75 248.75,187 241.25,188.75 233.75,190.6 224.4,195.3 215,192.5 203.75,195.3 197,197 190.6,194.4 183,188.75 175.6,185 169,179.4 166.25,172 161.6,165.3 157,162.5 153,159.7 150.3,155 149.4,149.4 146.6,144.7 150.3,138 152,132.5 152,121.25 150.3,112 149.4,109 153,102.5 156,95 160.6,90 162.5,83.75 165,78.75 168.75,74.4 173.75,72.5 178.75,68.75 183.75,63.75 185,58.75 185.6,53.75 188,50 188.75,46.25 191.25,42.5 195,40.6 200,38.75 203,34 204.7,28.4"/>
<polygon points="278,0 279,3.5 282,4 283,0"/>
<polygon points="186,0 187,5 190,10 196,12 204,11 212,13 222,11 231,9 236,4 237,0"/>
<polygon points="335,0 336,5 341,8 346,6 350,9 356,7 362,8 368,5 372,0"/>
<polygon points="312,0 314,5 318,6 320,2 319,0"/>
<polygon points="354,28 359,27.5 365,28.5 365,31 358,31 354,30"/>
<polygon points="397,31 401,30 406,29.5 405,32 400,34 397,33"/>
<polygon points="481.9,281.9 483.75,285.6 485.6,291.25 486.6,298.75 484.7,306.25 482.8,313.75 480,323 477,332.5 474.4,340 472.5,347.5 468.75,351.25 464,352 460.3,351.25 455.6,346.5 452.8,342 452,334.4 454.7,328.75 457.5,324 456.6,317.5 455.6,308 457.5,303.4 464,301.5 468.75,298.75 472.5,295 476.25,289.4 480,283.75"/>
</g>
<g font-family="'DejaVu Sans Condensed','DejaVu Sans','Liberation Sans',sans-serif" font-weight="bold" font-size="17.7">
<text y="25.8" fill="#000" xml:space="preserve" opacity="0.85"><tspan x="172.3" textLength="114" lengthAdjust="spacingAndGlyphs">Temperature</tspan><tspan font-size="1"> </tspan><tspan x="290.55" textLength="17.25" lengthAdjust="spacingAndGlyphs">03</tspan><tspan font-size="1"> </tspan><tspan x="312.8" textLength="29" lengthAdjust="spacingAndGlyphs">PM</tspan><tspan font-size="1"> </tspan><tspan x="349.3" textLength="30" lengthAdjust="spacingAndGlyphs">UTC</tspan><tspan font-size="1"> </tspan><tspan x="384.3" textLength="20" lengthAdjust="spacingAndGlyphs">Fri</tspan><tspan font-size="1"> </tspan><tspan x="410.55" textLength="36.25" lengthAdjust="spacingAndGlyphs">May</tspan><tspan font-size="1"> </tspan><tspan x="453.8" textLength="17.5" lengthAdjust="spacingAndGlyphs">08</tspan></text>
<text y="24.9" fill="#000" xml:space="preserve"><tspan x="171.4" textLength="114" lengthAdjust="spacingAndGlyphs">Temperature</tspan><tspan font-size="1"> </tspan><tspan x="289.65" textLength="17.25" lengthAdjust="spacingAndGlyphs">03</tspan><tspan font-size="1"> </tspan><tspan x="311.9" textLength="29" lengthAdjust="spacingAndGlyphs">PM</tspan><tspan font-size="1"> </tspan><tspan x="348.4" textLength="30" lengthAdjust="spacingAndGlyphs">UTC</tspan><tspan font-size="1"> </tspan><tspan x="383.4" textLength="20" lengthAdjust="spacingAndGlyphs">Fri</tspan><tspan font-size="1"> </tspan><tspan x="409.65" textLength="36.25" lengthAdjust="spacingAndGlyphs">May</tspan><tspan font-size="1"> </tspan><tspan x="452.9" textLength="17.5" lengthAdjust="spacingAndGlyphs">08</tspan></text>
<text y="24" fill="#fff" xml:space="preserve" stroke="#000" stroke-width="1.2" stroke-opacity="0.55" paint-order="stroke"><tspan x="170.5" textLength="114" lengthAdjust="spacingAndGlyphs">Temperature</tspan><tspan font-size="1"> </tspan><tspan x="288.75" textLength="17.25" lengthAdjust="spacingAndGlyphs">03</tspan><tspan font-size="1"> </tspan><tspan x="311" textLength="29" lengthAdjust="spacingAndGlyphs">PM</tspan><tspan font-size="1"> </tspan><tspan x="347.5" textLength="30" lengthAdjust="spacingAndGlyphs">UTC</tspan><tspan font-size="1"> </tspan><tspan x="382.5" textLength="20" lengthAdjust="spacingAndGlyphs">Fri</tspan><tspan font-size="1"> </tspan><tspan x="408.75" textLength="36.25" lengthAdjust="spacingAndGlyphs">May</tspan><tspan font-size="1"> </tspan><tspan x="452" textLength="17.5" lengthAdjust="spacingAndGlyphs">08</tspan></text></g>
</g>
<g shape-rendering="crispEdges">
<rect x="7" y="442" width="546" height="14" fill="#000"/>
<rect x="8" y="443" width="13" height="12" fill="#111111"/>
<rect x="21" y="443" width="14" height="12" fill="#1e0064"/>
<rect x="35" y="443" width="14" height="12" fill="#46006e"/>
<rect x="49" y="443" width="14" height="12" fill="#6e0064"/>
<rect x="63" y="443" width="14" height="12" fill="#820082"/>
<rect x="77" y="443" width="14" height="12" fill="#9b009b"/>
<rect x="91" y="443" width="14" height="12" fill="#b400b4"/>
<rect x="105" y="443" width="14" height="12" fill="#c800c8"/>
<rect x="119" y="443" width="14" height="12" fill="#e600e6"/>
<rect x="133" y="443" width="14" height="12" fill="#ff00ff"/>
<rect x="147" y="443" width="14" height="12" fill="#c800ff"/>
<rect x="161" y="443" width="14" height="12" fill="#a000ff"/>
<rect x="175" y="443" width="14" height="12" fill="#6e00ff"/>
<rect x="189" y="443" width="14" height="12" fill="#0000ff"/>
<rect x="203" y="443" width="14" height="12" fill="#0046ff"/>
<rect x="217" y="443" width="14" height="12" fill="#0078ff"/>
<rect x="231" y="443" width="14" height="12" fill="#00a0ff"/>
<rect x="245" y="443" width="14" height="12" fill="#00c0ff"/>
<rect x="259" y="443" width="14" height="12" fill="#00dcff"/>
<rect x="273" y="443" width="14" height="12" fill="#00ffff"/>
<rect x="287" y="443" width="14" height="12" fill="#00f0a0"/>
<rect x="301" y="443" width="14" height="12" fill="#78ff00"/>
<rect x="315" y="443" width="14" height="12" fill="#c8ff00"/>
<rect x="329" y="443" width="14" height="12" fill="#ffff00"/>
<rect x="343" y="443" width="14" height="12" fill="#ffe600"/>
<rect x="357" y="443" width="14" height="12" fill="#ffc800"/>
<rect x="371" y="443" width="14" height="12" fill="#ffaf00"/>
<rect x="385" y="443" width="14" height="12" fill="#ff9600"/>
<rect x="399" y="443" width="14" height="12" fill="#ff7d00"/>
<rect x="413" y="443" width="14" height="12" fill="#ff5000"/>
<rect x="427" y="443" width="14" height="12" fill="#ff0000"/>
<rect x="441" y="443" width="14" height="12" fill="#ff4646"/>
<rect x="455" y="443" width="14" height="12" fill="#ff6e6e"/>
<rect x="469" y="443" width="14" height="12" fill="#ff8c8c"/>
<rect x="483" y="443" width="14" height="12" fill="#ffa5a5"/>
<rect x="497" y="443" width="14" height="12" fill="#ffbebe"/>
<rect x="511" y="443" width="14" height="12" fill="#ffd2d2"/>
<rect x="525" y="443" width="14" height="12" fill="#ffe6e6"/>
<rect x="539" y="443" width="13" height="12" fill="#ebebeb"/>
</g>
<g font-family="'Liberation Serif',serif" font-size="15.8" fill="#000" text-anchor="middle">
<text x="17" y="438.6">-60</text>
<text x="47" y="438.6">-50</text>
<text x="75" y="438.6">-40</text>
<text x="103" y="438.6">-30</text>
<text x="131.25" y="438.6">-20</text>
<text x="158.75" y="438.6">-10</text>
<text x="190" y="438.6">0</text>
<text x="215.6" y="438.6">10</text>
<text x="243" y="438.6">20</text>
<text x="271.25" y="438.6">30</text>
<text x="299.5" y="438.6">40</text>
<text x="327.25" y="438.6">50</text>
<text x="355.25" y="438.6">60</text>
<text x="383.4" y="438.6">70</text>
<text x="411.25" y="438.6">80</text>
<text x="440" y="438.6">90</text>
<text x="468.75" y="438.6">100</text>
<text x="496.5" y="438.6">110</text>
<text x="524.25" y="438.6">120</text>
<text x="24" y="469.7">-50</text>
<text x="75" y="469.7">-40</text>
<text x="125" y="469.7">-30</text>
<text x="170" y="469.7">-20</text>
<text x="226.25" y="469.7">-10</text>
<text x="273.75" y="469.7">0</text>
<text x="326.9" y="469.7">10</text>
<text x="374.75" y="469.7">20</text>
<text x="425.6" y="469.7">30</text>
<text x="472.75" y="469.7">40</text>
<text x="519.75" y="469.7">50</text>
</g>
<g font-family="'Liberation Serif',serif" font-weight="bold" font-size="16" fill="#000"><text x="557.6" y="438.7">F</text><text x="558.4" y="469.8">C</text></g>
<g>
<clipPath id="rb"><rect x="585" y="425" width="45" height="21.7"/></clipPath>
<g clip-path="url(#rb)"><circle cx="606.5" cy="446.7" r="17.6" fill="#f5222d"/><circle cx="606.5" cy="446.7" r="15.6" fill="#ff8a1f"/><circle cx="606.5" cy="446.7" r="14.5" fill="#ffe01f"/><circle cx="606.5" cy="446.7" r="13.3" fill="#3db54a"/><circle cx="606.5" cy="446.7" r="12.1" fill="#1766b8"/><ellipse cx="606.5" cy="438" rx="9" ry="3.5" fill="#2a7dcc" opacity="0.6"/></g>
<path d="M578.6 440.2 L588 430.6 L589 430.9 L592.6 425.9 Q594 425.2 595.6 425.9 L601.2 431.4 L603.9 434.3 Q607.5 434.2 609 435.8 Q612.2 436.6 612.8 440.2 Z" fill="url(#mtn)"/>
<path d="M594 425.6 L595.6 425.9 L601.2 431.4 L603.9 434.3 Q607.5 434.2 609 435.8 Q612.2 436.6 612.8 440.2 L603 440.2 Z" fill="#fff" opacity="0.25"/>
<path d="M578.6 440.2 L588 430.6 L589 430.9 L592.6 425.9 L594 425.6 L597 440.2 Z" fill="#4c5850" opacity="0.35"/>
<g stroke="#bcd0ea" stroke-width="0.9" stroke-linecap="round"><line x1="597.3" y1="442.4" x2="598.6" y2="445"/><line x1="601.2" y1="442.4" x2="602.6" y2="445"/><line x1="605.2" y1="442.4" x2="606.5" y2="445"/></g>
<text x="614.2" y="429.8" font-family="'Liberation Sans',sans-serif" font-size="5" fill="#5c6c66" font-weight="bold" textLength="8.6" lengthAdjust="spacingAndGlyphs">TM</text>
</g>
</svg>
</body></html>
